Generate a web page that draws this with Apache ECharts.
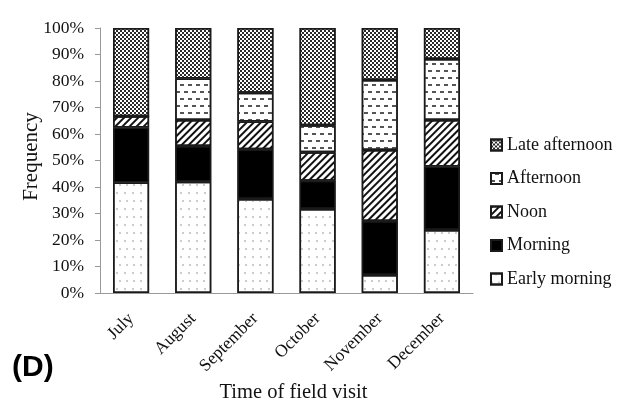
<!DOCTYPE html>
<html>
<head>
<meta charset="utf-8">
<script src="https://cdn.jsdelivr.net/npm/echarts@6/dist/echarts.min.js"></script>
<style>
html,body{margin:0;padding:0;background:#fff;}
#chart{width:621px;height:406px;}
</style>
</head>
<body>
<div id="chart"></div>
<script>
const categories = ['July', 'August', 'September', 'October', 'November', 'December'];
const earlyMorning = [41.7, 42.0, 35.5, 31.7, 6.8, 23.8];
const morning = [20.8, 13.5, 18.7, 10.7, 20.4, 23.9];
const noon = [4.2, 9.8, 10.5, 10.7, 26.8, 17.6];
const afternoon = [0, 15.6, 10.9, 10.2, 26.4, 23.0];
const lateAfternoon = [33.3, 19.1, 24.4, 36.7, 19.6, 11.7];
const yTicks = [0, 10, 20, 30, 40, 50, 60, 70, 80, 90, 100];

const serif = '"Liberation Serif", "Times New Roman", serif';

const decals = {
  early: { symbol: 'circle', symbolSize: 0.75, color: '#808080', dashArrayX: [[2, 5], [0, 3.5, 2, 1.5]], dashArrayY: [2, 6] },
  morning: { symbol: 'none' },
  noon: { symbol: 'rect', symbolSize: 1, color: '#111', dashArrayX: [[1, 0]], dashArrayY: [2, 2.6], rotation: -Math.PI / 4 },
  afternoon: { symbol: 'rect', symbolSize: 1, color: '#555', dashArrayX: [[4, 4], [0, 4, 4, 0]], dashArrayY: [1.6, 4.4] },
  late: { symbol: 'rect', symbolSize: 1, color: '#2a2a2a', dashArrayX: [[2, 2], [0, 2, 2, 0]], dashArrayY: [2, 0] }
};

function mk(name, data, color, decal) {
  return {
    name: name,
    type: 'bar',
    stack: 'total',
    barWidth: '58%',
    data: data,
    itemStyle: { color: color, borderColor: '#1a1a1a', borderWidth: 1.5, decal: decal },
    emphasis: { disabled: true }
  };
}

const chart = echarts.init(document.getElementById('chart'), null, { renderer: 'canvas' });
chart.setOption({
  animation: false,
  backgroundColor: '#fff',
  grid: { left: 100, right: 148, top: 28, bottom: 113, containLabel: false, outerBoundsMode: 'none' },
  legend: {
    orient: 'vertical',
    left: 485,
    top: 131,
    itemWidth: 11,
    itemHeight: 11,
    itemGap: 15.5,
    icon: 'rect',
    textStyle: { fontFamily: serif, fontSize: 18, color: '#111' },
    data: ['Late afternoon', 'Afternoon', 'Noon', 'Morning', 'Early morning']
  },
  xAxis: {
    type: 'category',
    data: categories,
    axisLine: { lineStyle: { color: '#999', width: 1 } },
    axisTick: { show: false },
    axisLabel: { rotate: 45, margin: 23, fontFamily: serif, fontSize: 17.5, color: '#111' },
    name: 'Time of field visit',
    nameLocation: 'middle',
    nameMoveOverlap: false,
    nameGap: 89,
    nameTextStyle: { fontFamily: serif, fontSize: 20.5, color: '#111', padding: [0, 0, 0, 14] }
  },
  yAxis: {
    type: 'value',
    min: yTicks[0],
    max: yTicks[yTicks.length - 1],
    interval: yTicks[1] - yTicks[0],
    splitLine: { show: false },
    axisLine: { show: true, lineStyle: { color: '#999', width: 1 } },
    axisTick: { show: true, length: 5, lineStyle: { color: '#999' } },
    axisLabel: { formatter: '{value}%', margin: 16, fontFamily: serif, fontSize: 17.5, color: '#111' },
    name: 'Frequency',
    nameLocation: 'middle',
    nameMoveOverlap: false,
    nameGap: 58,
    nameTextStyle: { fontFamily: serif, fontSize: 21, color: '#111', padding: [0, 0, 0, 8] }
  },
  graphic: [{
    type: 'text',
    left: 12,
    top: 353,
    style: { text: '(D)', font: 'bold 30px "Liberation Sans", Arial, sans-serif', fill: '#000' }
  }],
  series: [
    mk('Early morning', earlyMorning, '#fff', decals.early),
    mk('Morning', morning, '#000', decals.morning),
    mk('Noon', noon, '#fff', decals.noon),
    mk('Afternoon', afternoon, '#fff', decals.afternoon),
    mk('Late afternoon', lateAfternoon, '#fff', decals.late)
  ]
});
</script>
</body>
</html>
